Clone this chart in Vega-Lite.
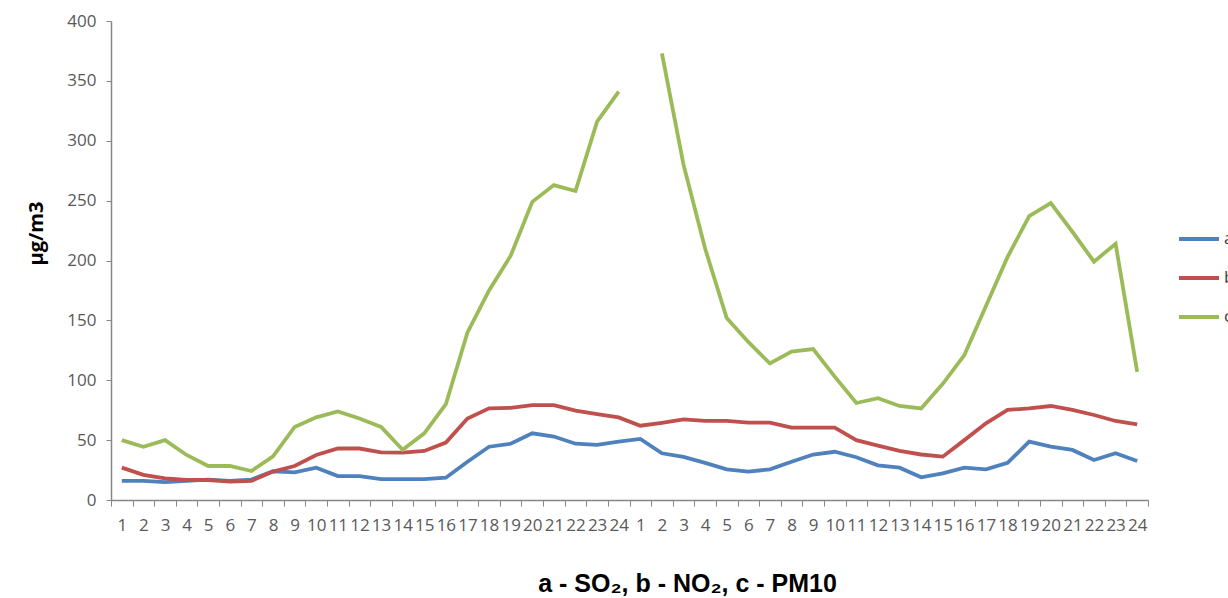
{
  "$schema": "https://vega.github.io/schema/vega-lite/v6.json",
  "width": 1037,
  "height": 479,
  "autosize": {"type": "none"},
  "padding": {"left": 111, "top": 21, "right": 80, "bottom": 98},
  "background": "white",
  "config": {"view": {"stroke": null}},
  "data": {
    "values": [
      {"i":1,"s":"a","v":16},{"i":2,"s":"a","v":16},{"i":3,"s":"a","v":15},{"i":4,"s":"a","v":16},{"i":5,"s":"a","v":17},{"i":6,"s":"a","v":16},{"i":7,"s":"a","v":17},{"i":8,"s":"a","v":24},{"i":9,"s":"a","v":23},{"i":10,"s":"a","v":27},{"i":11,"s":"a","v":20},{"i":12,"s":"a","v":20},{"i":13,"s":"a","v":17.5},{"i":14,"s":"a","v":17.5},{"i":15,"s":"a","v":17.5},{"i":16,"s":"a","v":18.6},{"i":17,"s":"a","v":32},{"i":18,"s":"a","v":44.5},{"i":19,"s":"a","v":47},{"i":20,"s":"a","v":55.7},{"i":21,"s":"a","v":53},{"i":22,"s":"a","v":47},{"i":23,"s":"a","v":46},{"i":24,"s":"a","v":48.7},
      {"i":25,"s":"a","v":51},{"i":26,"s":"a","v":39},{"i":27,"s":"a","v":36},{"i":28,"s":"a","v":31},{"i":29,"s":"a","v":25.6},{"i":30,"s":"a","v":23.7},{"i":31,"s":"a","v":25.6},{"i":32,"s":"a","v":32},{"i":33,"s":"a","v":38},{"i":34,"s":"a","v":40.3},{"i":35,"s":"a","v":35.7},{"i":36,"s":"a","v":29},{"i":37,"s":"a","v":27},{"i":38,"s":"a","v":19},{"i":39,"s":"a","v":22.3},{"i":40,"s":"a","v":27},{"i":41,"s":"a","v":25.6},{"i":42,"s":"a","v":31},{"i":43,"s":"a","v":48.7},{"i":44,"s":"a","v":44.5},{"i":45,"s":"a","v":41.8},{"i":46,"s":"a","v":33.4},{"i":47,"s":"a","v":39},{"i":48,"s":"a","v":32.6},
      {"i":1,"s":"b","v":27},{"i":2,"s":"b","v":21},{"i":3,"s":"b","v":18},{"i":4,"s":"b","v":16.7},{"i":5,"s":"b","v":16.7},{"i":6,"s":"b","v":15.3},{"i":7,"s":"b","v":16},{"i":8,"s":"b","v":23.7},{"i":9,"s":"b","v":28.4},{"i":10,"s":"b","v":37.6},{"i":11,"s":"b","v":43},{"i":12,"s":"b","v":43},{"i":13,"s":"b","v":39.8},{"i":14,"s":"b","v":39.5},{"i":15,"s":"b","v":41},{"i":16,"s":"b","v":48},{"i":17,"s":"b","v":68},{"i":18,"s":"b","v":76.6},{"i":19,"s":"b","v":77},{"i":20,"s":"b","v":79.3},{"i":21,"s":"b","v":79.3},{"i":22,"s":"b","v":74.6},{"i":23,"s":"b","v":71.8},{"i":24,"s":"b","v":69},
      {"i":25,"s":"b","v":62},{"i":26,"s":"b","v":64.5},{"i":27,"s":"b","v":67.4},{"i":28,"s":"b","v":66},{"i":29,"s":"b","v":66},{"i":30,"s":"b","v":64.6},{"i":31,"s":"b","v":64.6},{"i":32,"s":"b","v":60.4},{"i":33,"s":"b","v":60.4},{"i":34,"s":"b","v":60.4},{"i":35,"s":"b","v":50},{"i":36,"s":"b","v":45.4},{"i":37,"s":"b","v":41},{"i":38,"s":"b","v":38},{"i":39,"s":"b","v":36.2},{"i":40,"s":"b","v":50},{"i":41,"s":"b","v":64},{"i":42,"s":"b","v":75.2},{"i":43,"s":"b","v":76.6},{"i":44,"s":"b","v":78.5},{"i":45,"s":"b","v":75.2},{"i":46,"s":"b","v":71},{"i":47,"s":"b","v":66},{"i":48,"s":"b","v":63.2},
      {"i":1,"s":"c","v":50},{"i":2,"s":"c","v":44.5},{"i":3,"s":"c","v":50},{"i":4,"s":"c","v":37.6},{"i":5,"s":"c","v":28.4},{"i":6,"s":"c","v":28.4},{"i":7,"s":"c","v":24.2},{"i":8,"s":"c","v":36.5},{"i":9,"s":"c","v":61},{"i":10,"s":"c","v":69},{"i":11,"s":"c","v":74},{"i":12,"s":"c","v":68},{"i":13,"s":"c","v":61},{"i":14,"s":"c","v":42},{"i":15,"s":"c","v":55.7},{"i":16,"s":"c","v":80},{"i":17,"s":"c","v":140},{"i":18,"s":"c","v":175},{"i":19,"s":"c","v":204},{"i":20,"s":"c","v":249},{"i":21,"s":"c","v":263},{"i":22,"s":"c","v":258},{"i":23,"s":"c","v":316},{"i":24,"s":"c","v":341},
      {"i":25,"s":"c","v":null},{"i":26,"s":"c","v":373},{"i":27,"s":"c","v":280},{"i":28,"s":"c","v":210},{"i":29,"s":"c","v":152},{"i":30,"s":"c","v":132},{"i":31,"s":"c","v":114},{"i":32,"s":"c","v":124},{"i":33,"s":"c","v":126},{"i":34,"s":"c","v":103},{"i":35,"s":"c","v":81},{"i":36,"s":"c","v":85},{"i":37,"s":"c","v":78.5},{"i":38,"s":"c","v":76.5},{"i":39,"s":"c","v":97},{"i":40,"s":"c","v":121},{"i":41,"s":"c","v":162},{"i":42,"s":"c","v":203},{"i":43,"s":"c","v":237},{"i":44,"s":"c","v":248},{"i":45,"s":"c","v":224},{"i":46,"s":"c","v":199},{"i":47,"s":"c","v":214},{"i":48,"s":"c","v":107}
    ]
  },
  "mark": {"type": "line", "strokeWidth": 3.8, "invalid": "break-paths-show-domains"},
  "encoding": {
    "x": {
      "field": "i",
      "type": "ordinal",
      "sort": "ascending",
      "scale": {"type": "band", "paddingInner": 0, "paddingOuter": 0},
      "axis": {
        "title": "a - SO₂, b - NO₂, c - PM10",
        "titleFont": "Liberation Sans",
        "titleFontSize": 25,
        "titleFontWeight": "bold",
        "titleColor": "#000000",
        "titleX": 576,
        "titleY": 91,
        "titleAlign": "center",
        "titleBaseline": "alphabetic",
        "labelExpr": "datum.value > 24 ? datum.value - 24 : datum.value",
        "labelAngle": 0,
        "labelOverlap": false,
        "labelFont": "Open Sans",
        "labelFontSize": 17,
        "labelColor": "#595959",
        "labelPadding": 11,
        "tickBand": "extent",
        "tickSize": 6,
        "tickColor": "#868686",
        "domainColor": "#868686",
        "domainWidth": 1.5,
        "grid": false
      }
    },
    "y": {
      "field": "v",
      "type": "quantitative",
      "scale": {"domain": [0, 400], "nice": false},
      "axis": {
        "title": "µg/m3",
        "titleFont": "Open Sans",
        "titleFontSize": 20,
        "titleFontWeight": "bold",
        "titleColor": "#000000",
        "titleAngle": -90,
        "titleX": -69,
        "titleY": 212,
        "titleAlign": "center",
        "titleBaseline": "alphabetic",
        "values": [0, 50, 100, 150, 200, 250, 300, 350, 400],
        "labelFont": "Open Sans",
        "labelFontSize": 17,
        "labelColor": "#595959",
        "labelPadding": 10,
        "tickSize": 5,
        "tickColor": "#868686",
        "domainColor": "#868686",
        "domainWidth": 1.5,
        "grid": false
      }
    },
    "color": {
      "field": "s",
      "type": "nominal",
      "scale": {"domain": ["a", "b", "c"], "range": ["#4f81bd", "#c0504d", "#9bbb59"]},
      "legend": {
        "title": null,
        "orient": "none",
        "legendX": 1066,
        "legendY": 196,
        "padding": 0,
        "symbolType": "stroke",
        "symbolSize": 1600,
        "symbolStrokeWidth": 4,
        "rowPadding": 9,
        "labelOffset": 3,
        "labelFont": "Open Sans",
        "labelFontSize": 17,
        "labelColor": "#404040"
      }
    }
  }
}
